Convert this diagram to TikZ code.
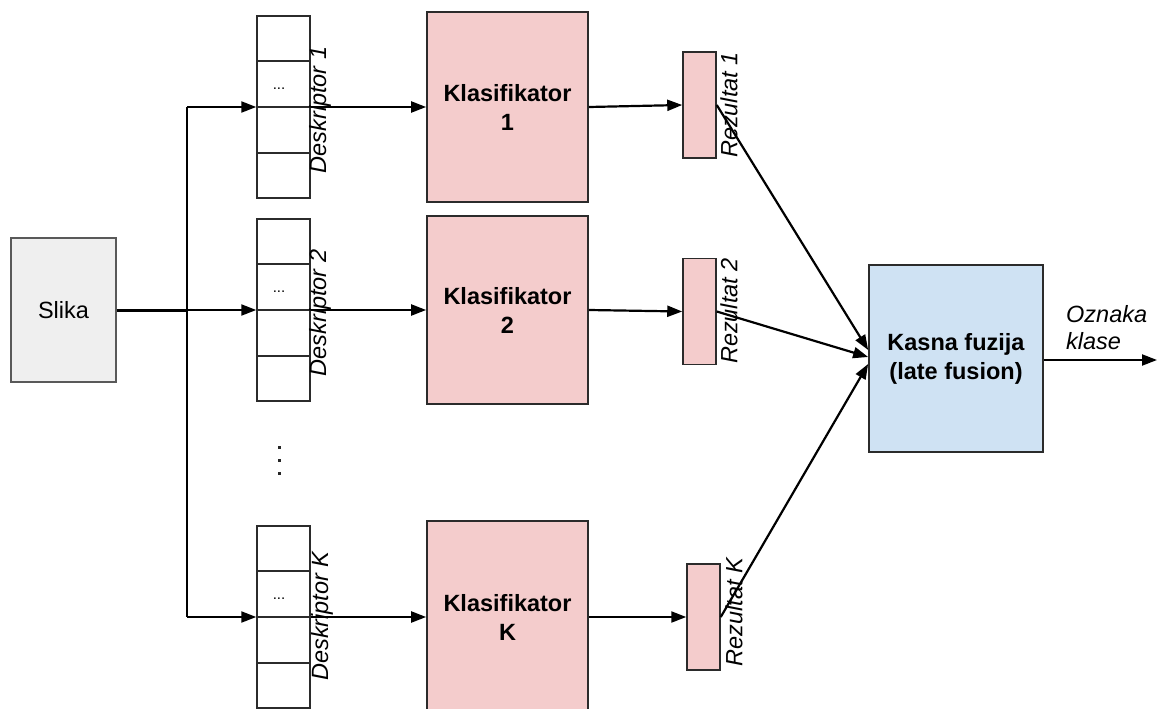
\documentclass[tikz,border=0pt]{standalone}
\usepackage{fontspec}
\setmainfont{Liberation Sans}
\usetikzlibrary{arrows.meta,calc}
\definecolor{pinkf}{HTML}{F4CCCC}
\definecolor{bluef}{HTML}{CFE2F3}
\definecolor{grayf}{HTML}{EFEFEF}
\definecolor{edge}{HTML}{2B2B2B}
\begin{document}
\begin{tikzpicture}[x=1pt,y=-1pt,
  txt/.style={font=\fontsize{23.5}{29}\selectfont, text=black},
  bold/.style={font=\fontsize{23.5}{29}\selectfont\bfseries, text=black, align=center},
  rot/.style={txt, font=\fontsize{23.5}{29}\selectfont\itshape, rotate=90, inner sep=0pt},
  descbox/.style={draw=edge, line width=1.5pt, minimum width=53pt, minimum height=182pt, inner sep=0pt},
  clsbox/.style={draw=edge, fill=pinkf, line width=1.7pt, minimum width=161pt, inner sep=0pt},
  resbox/.style={draw=edge, fill=pinkf, line width=1.5pt, minimum width=33pt, minimum height=106pt, inner sep=0pt},
  arr/.style={-{Triangle[length=15pt,width=11pt]}, line width=2.2pt},
  ln/.style={line width=2.2pt},
  dots/.style={font=\fontsize{15}{15}\selectfont, inner sep=0pt, anchor=base}
]
\useasboundingbox (0,0) rectangle (1157,709);

% Slika
\node[draw=black!65, fill=grayf, line width=1.5pt, minimum width=105pt, minimum height=144pt, txt] (s) at (63.5,310) {Slika};

% Descriptors
\node[descbox] (d1) at (283.5,107) {};
\node[descbox] (d2) at (283.5,310) {};
\node[descbox] (dK) at (283.5,617) {};
\foreach \d in {d1,d2,dK}{
  \draw[edge, line width=1.5pt] ($(\d.north west)!0.25!(\d.south west)$) -- ($(\d.north east)!0.25!(\d.south east)$);
  \draw[edge, line width=1.5pt] ($(\d.north west)!0.5!(\d.south west)$) -- ($(\d.north east)!0.5!(\d.south east)$);
  \draw[edge, line width=1.5pt] ($(\d.north west)!0.75!(\d.south west)$) -- ($(\d.north east)!0.75!(\d.south east)$);
}
\node[dots] (e1) at (279,89) {...};
\node[dots] (e2) at (279,292) {...};
\node[dots] (eK) at (279,599) {...};

% vertical ellipsis
\fill[black!85] (277.5,445.5) rectangle (280.5,448.5);
\fill[black!85] (277.5,458.5) rectangle (280.5,461.5);
\fill[black!85] (277.5,471.5) rectangle (280.5,474.5);

% Classifiers
\node[clsbox, minimum height=190pt, bold] (c1) at (507.5,107) {Klasifikator\\1};
\node[clsbox, minimum height=188pt, bold] (c2) at (507.5,310) {Klasifikator\\2};
\node[clsbox, minimum height=192pt, bold] (cK) at (507.5,617) {Klasifikator\\K};

% Results
\node[resbox] (r1) at (699.5,105) {};
\node[resbox] (r2) at (699.5,311.5) {};
\node[resbox] (rK) at (703.5,617) {};

% Fusion
\node[draw=edge, fill=bluef, line width=1.7pt, minimum width=174pt, minimum height=187pt, bold] (f) at (956,358.5) {Kasna fuzija\\(late fusion)};

% trunk
\coordinate (tr) at (187,310);
\draw[ln, line width=3pt] (s.east) -- (tr);
\draw[arr] (tr) -- (d2.west);
\draw[ln] (tr |- d1.west) -- (tr |- dK.west);
\draw[arr] (tr |- d1.west) -- (d1.west);
\draw[arr] (tr |- dK.west) -- (dK.west);

% descriptor -> classifier
\draw[arr] (d1.east) -- (c1.west);
\draw[arr] (d2.east) -- (c2.west);
\draw[arr] (dK.east) -- (cK.west);

% classifier -> result
\draw[arr] (c1.east) -- (r1.west);
\draw[arr] (c2.east) -- (r2.west);
\draw[arr] (cK.east) -- (rK.west);

% result -> fusion
\draw[arr] (r1.east) -- ([yshift=8.5pt]f.west);
\draw[arr] (r2.east) -- ([yshift=1.5pt]f.west);
\draw[arr] (rK.east) -- ([yshift=-5.5pt]f.west);

% output
\coordinate (out) at (1157,360);
\draw[arr] (f.east |- out) -- (out);
\node[txt, font=\fontsize{23.5}{27}\selectfont\itshape, align=left, anchor=west, inner sep=0pt] (ok) at (1066,328) {Oznaka\\klase};

% rotated labels
\node[rot] (ld1) at (320,110) {Deskriptor 1};
\node[rot] (ld2) at (320,313) {Deskriptor 2};
\node[rot] (ldK) at (322,616) {Deskriptor K};
\node[rot] (lr1) at (729,105) {Rezultat 1};
\node[rot] (lr2) at (729,311) {Rezultat 2};
\node[rot] (lrK) at (734,612) {Rezultat K};
\end{tikzpicture}
\end{document}
